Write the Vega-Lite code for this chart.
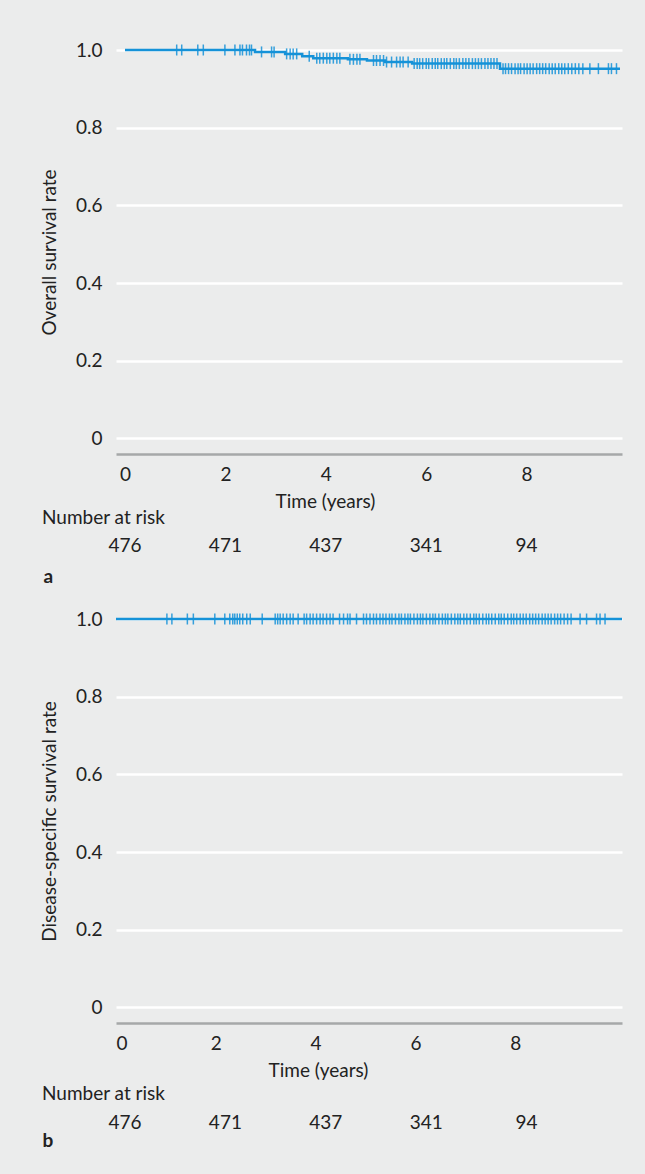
{
  "$schema": "https://vega.github.io/schema/vega-lite/v6.json",
  "background": "#ebecec",
  "padding": {"left": 40, "top": 41, "right": 23, "bottom": 24},
  "bounds": "flush",
  "spacing": 79,
  "datasets": {
    "kmA": [
      {"t": 0, "s": 1.0}, {"t": 2.59, "s": 0.995}, {"t": 3.19, "s": 0.99}, {"t": 3.53, "s": 0.984},
      {"t": 3.75, "s": 0.979}, {"t": 4.44, "s": 0.976}, {"t": 4.82, "s": 0.973}, {"t": 5.18, "s": 0.969},
      {"t": 5.72, "s": 0.965}, {"t": 7.47, "s": 0.952}, {"t": 9.86, "s": 0.952}
    ],
    "censorA": [
      {"t": 1.03, "s": 1}, {"t": 1.13, "s": 1}, {"t": 1.45, "s": 1}, {"t": 1.56, "s": 1}, {"t": 1.99, "s": 1},
      {"t": 2.19, "s": 1}, {"t": 2.29, "s": 1}, {"t": 2.34, "s": 1}, {"t": 2.42, "s": 1}, {"t": 2.48, "s": 1}, {"t": 2.52, "s": 1},
      {"t": 2.72, "s": 0.995}, {"t": 2.92, "s": 0.995}, {"t": 2.97, "s": 0.995},
      {"t": 3.22, "s": 0.99}, {"t": 3.29, "s": 0.99}, {"t": 3.35, "s": 0.99}, {"t": 3.42, "s": 0.99},
      {"t": 3.67, "s": 0.984},
      {"t": 3.82, "s": 0.979}, {"t": 3.88, "s": 0.979}, {"t": 3.95, "s": 0.979}, {"t": 4.02, "s": 0.979},
      {"t": 4.08, "s": 0.979}, {"t": 4.15, "s": 0.979}, {"t": 4.22, "s": 0.979}, {"t": 4.28, "s": 0.979},
      {"t": 4.48, "s": 0.976}, {"t": 4.55, "s": 0.976}, {"t": 4.62, "s": 0.976}, {"t": 4.68, "s": 0.976},
      {"t": 4.95, "s": 0.973}, {"t": 5.01, "s": 0.973}, {"t": 5.08, "s": 0.973}, {"t": 5.15, "s": 0.973},
      {"t": 5.21, "s": 0.969}, {"t": 5.31, "s": 0.969}, {"t": 5.41, "s": 0.969}, {"t": 5.48, "s": 0.969},
      {"t": 5.54, "s": 0.969}, {"t": 5.64, "s": 0.969},
      {"t": 5.76, "s": 0.965}, {"t": 5.82, "s": 0.965}, {"t": 5.87, "s": 0.965}, {"t": 5.93, "s": 0.965},
      {"t": 6.0, "s": 0.965}, {"t": 6.05, "s": 0.965}, {"t": 6.12, "s": 0.965}, {"t": 6.18, "s": 0.965},
      {"t": 6.23, "s": 0.965}, {"t": 6.3, "s": 0.965}, {"t": 6.36, "s": 0.965}, {"t": 6.41, "s": 0.965},
      {"t": 6.48, "s": 0.965}, {"t": 6.55, "s": 0.965}, {"t": 6.6, "s": 0.965}, {"t": 6.66, "s": 0.965},
      {"t": 6.73, "s": 0.965}, {"t": 6.79, "s": 0.965}, {"t": 6.85, "s": 0.965}, {"t": 6.92, "s": 0.965},
      {"t": 6.98, "s": 0.965}, {"t": 7.04, "s": 0.965}, {"t": 7.1, "s": 0.965}, {"t": 7.17, "s": 0.965},
      {"t": 7.23, "s": 0.965}, {"t": 7.29, "s": 0.965}, {"t": 7.35, "s": 0.965}, {"t": 7.41, "s": 0.965},
      {"t": 7.53, "s": 0.952}, {"t": 7.58, "s": 0.952}, {"t": 7.64, "s": 0.952}, {"t": 7.7, "s": 0.952},
      {"t": 7.77, "s": 0.952}, {"t": 7.83, "s": 0.952}, {"t": 7.88, "s": 0.952}, {"t": 7.95, "s": 0.952},
      {"t": 8.01, "s": 0.952}, {"t": 8.07, "s": 0.952}, {"t": 8.13, "s": 0.952}, {"t": 8.2, "s": 0.952},
      {"t": 8.26, "s": 0.952}, {"t": 8.32, "s": 0.952}, {"t": 8.38, "s": 0.952}, {"t": 8.45, "s": 0.952},
      {"t": 8.51, "s": 0.952}, {"t": 8.57, "s": 0.952}, {"t": 8.64, "s": 0.952}, {"t": 8.7, "s": 0.952},
      {"t": 8.76, "s": 0.952}, {"t": 8.83, "s": 0.952}, {"t": 8.9, "s": 0.952}, {"t": 8.97, "s": 0.952},
      {"t": 9.04, "s": 0.952}, {"t": 9.12, "s": 0.952}, {"t": 9.26, "s": 0.952}, {"t": 9.43, "s": 0.952},
      {"t": 9.63, "s": 0.952}, {"t": 9.69, "s": 0.952}, {"t": 9.79, "s": 0.952}
    ],
    "kmB": [{"t": 0, "s": 1.0}, {"t": 10.14, "s": 1.0}],
    "censorB": [
      {"t": 1.02}, {"t": 1.12}, {"t": 1.43}, {"t": 1.55}, {"t": 1.98}, {"t": 2.18}, {"t": 2.28}, {"t": 2.34},
      {"t": 2.38}, {"t": 2.43}, {"t": 2.48}, {"t": 2.54}, {"t": 2.62}, {"t": 2.69}, {"t": 2.93}, {"t": 3.19},
      {"t": 3.24}, {"t": 3.29}, {"t": 3.35}, {"t": 3.42}, {"t": 3.49}, {"t": 3.55}, {"t": 3.65}, {"t": 3.77},
      {"t": 3.82}, {"t": 3.89}, {"t": 3.95}, {"t": 4.02}, {"t": 4.09}, {"t": 4.15}, {"t": 4.22}, {"t": 4.29},
      {"t": 4.35}, {"t": 4.48}, {"t": 4.56}, {"t": 4.64}, {"t": 4.69}, {"t": 4.82}, {"t": 4.96}, {"t": 5.02},
      {"t": 5.09}, {"t": 5.16}, {"t": 5.22}, {"t": 5.29}, {"t": 5.35}, {"t": 5.41}, {"t": 5.48}, {"t": 5.53},
      {"t": 5.6}, {"t": 5.67}, {"t": 5.72}, {"t": 5.79}, {"t": 5.85}, {"t": 5.9}, {"t": 5.97}, {"t": 6.04},
      {"t": 6.1}, {"t": 6.15}, {"t": 6.22}, {"t": 6.29}, {"t": 6.35}, {"t": 6.4}, {"t": 6.47}, {"t": 6.54},
      {"t": 6.6}, {"t": 6.65}, {"t": 6.72}, {"t": 6.79}, {"t": 6.85}, {"t": 6.9}, {"t": 6.97}, {"t": 7.03},
      {"t": 7.1}, {"t": 7.17}, {"t": 7.22}, {"t": 7.28}, {"t": 7.35}, {"t": 7.42}, {"t": 7.47}, {"t": 7.53},
      {"t": 7.6}, {"t": 7.67}, {"t": 7.72}, {"t": 7.78}, {"t": 7.85}, {"t": 7.92}, {"t": 7.97}, {"t": 8.03},
      {"t": 8.1}, {"t": 8.16}, {"t": 8.22}, {"t": 8.29}, {"t": 8.35}, {"t": 8.41}, {"t": 8.47}, {"t": 8.54},
      {"t": 8.6}, {"t": 8.66}, {"t": 8.72}, {"t": 8.79}, {"t": 8.85}, {"t": 8.91}, {"t": 8.98}, {"t": 9.05},
      {"t": 9.12}, {"t": 9.3}, {"t": 9.43}, {"t": 9.63}, {"t": 9.7}, {"t": 9.8}
    ],
    "risk": [
      {"t": 0, "n": 476}, {"t": 2, "n": 471}, {"t": 4, "n": 437}, {"t": 6, "n": 341}, {"t": 8, "n": 94}
    ]
  },
  "vconcat": [
    {
      "width": 506,
      "height": 404,
      "layer": [
        {
          "data": {"name": "kmA"},
          "mark": {"type": "line", "interpolate": "step-after", "color": "#1592d8", "strokeWidth": 2.5, "clip": false},
          "encoding": {
            "x": {
              "field": "t", "type": "quantitative",
              "scale": {"domain": [-0.179, 9.9], "nice": false, "zero": false},
              "axis": {"values": [0, 2, 4, 6, 8], "format": "d", "title": "Time (years)", "domain": true,
                       "domainColor": "#a6a8a9", "domainWidth": 2.5, "ticks": false, "grid": false,
                       "labelPadding": 11, "titlePadding": 8, "titleX": 209, "titleAlign": "center"}
            },
            "y": {
              "field": "s", "type": "quantitative",
              "scale": {"domain": [-0.04, 1.0], "nice": false, "zero": false},
              "axis": {"values": [0, 0.2, 0.4, 0.6, 0.8, 1.0],
                       "labelExpr": "datum.value == 0 ? '0' : format(datum.value, '.1f')",
                       "title": "Overall survival rate", "grid": true, "gridColor": "#ffffff", "gridWidth": 2.5,
                       "domain": false, "ticks": false, "labelPadding": 14, "titlePadding": 16}
            }
          }
        },
        {
          "data": {"name": "censorA"},
          "mark": {"type": "tick", "orient": "vertical", "color": "#1592d8", "thickness": 1.5, "size": 11, "opacity": 0.85, "clip": false},
          "encoding": {
            "x": {"field": "t", "type": "quantitative"},
            "y": {"field": "s", "type": "quantitative"}
          }
        }
      ]
    },
    {
      "width": 506,
      "height": 7,
      "title": {"text": "Number at risk", "anchor": "start", "frame": "group", "dx": -74, "dy": 20, "offset": 10,
                "baseline": "alphabetic", "align": "left", "fontSize": 19, "fontWeight": "normal", "color": "#222222"},
      "data": {"name": "risk"},
      "mark": {"type": "text", "baseline": "top", "fontSize": 19, "color": "#222222"},
      "encoding": {
        "x": {
          "field": "t", "type": "quantitative",
          "scale": {"domain": [-0.179, 9.9], "nice": false, "zero": false},
          "axis": {"title": "a", "domain": false, "ticks": false, "labels": false, "grid": false,
                   "titleFontWeight": "bold", "titleX": -73, "titleY": 42, "titleAlign": "left",
                   "titleAnchor": "start", "titleBaseline": "alphabetic", "titleAngle": 0}
        },
        "text": {"field": "n", "type": "quantitative", "format": "d"}
      }
    },
    {
      "width": 506,
      "height": 404,
      "layer": [
        {
          "data": {"name": "kmB"},
          "mark": {"type": "line", "interpolate": "step-after", "color": "#1592d8", "strokeWidth": 2.5, "clip": false},
          "encoding": {
            "x": {
              "field": "t", "type": "quantitative",
              "scale": {"domain": [0, 10.14], "nice": false, "zero": false},
              "axis": {"values": [0, 2, 4, 6, 8], "format": "d", "title": "Time (years)", "domain": true,
                       "domainColor": "#a6a8a9", "domainWidth": 2.5, "ticks": false, "grid": false,
                       "labelPadding": 11, "titlePadding": 8, "titleX": 202, "titleAlign": "center"}
            },
            "y": {
              "field": "s", "type": "quantitative",
              "scale": {"domain": [-0.04, 1.0], "nice": false, "zero": false},
              "axis": {"values": [0, 0.2, 0.4, 0.6, 0.8, 1.0],
                       "labelExpr": "datum.value == 0 ? '0' : format(datum.value, '.1f')",
                       "title": "Disease-specific survival rate", "grid": true, "gridColor": "#ffffff", "gridWidth": 2.5,
                       "domain": false, "ticks": false, "labelPadding": 14, "titlePadding": 16}
            }
          }
        },
        {
          "data": {"name": "censorB"},
          "mark": {"type": "tick", "orient": "vertical", "color": "#1592d8", "thickness": 1.5, "size": 11, "opacity": 0.85, "clip": false},
          "encoding": {
            "x": {"field": "t", "type": "quantitative"},
            "y": {"datum": 1, "type": "quantitative"}
          }
        }
      ]
    },
    {
      "width": 506,
      "height": 23,
      "title": {"text": "Number at risk", "anchor": "start", "frame": "group", "dx": -74, "dy": 19, "offset": 2,
                "baseline": "alphabetic", "align": "left", "fontSize": 19, "fontWeight": "normal", "color": "#222222"},
      "data": {"name": "risk"},
      "mark": {"type": "text", "baseline": "top", "fontSize": 19, "color": "#222222"},
      "encoding": {
        "x": {
          "field": "t", "type": "quantitative",
          "scale": {"domain": [-0.179, 9.9], "nice": false, "zero": false},
          "axis": {"title": "b", "domain": false, "ticks": false, "labels": false, "grid": false,
                   "titleFontWeight": "bold", "titleX": -74, "titleY": 21, "titleAlign": "left",
                   "titleAnchor": "start", "titleBaseline": "alphabetic", "titleAngle": 0}
        },
        "text": {"field": "n", "type": "quantitative", "format": "d"}
      }
    }
  ],
  "config": {
    "font": "Lato",
    "view": {"stroke": null},
    "axis": {"labelFont": "Lato", "titleFont": "Lato", "labelFontSize": 19, "titleFontSize": 19,
             "labelColor": "#222222", "titleColor": "#222222", "titleFontWeight": "normal", "ticks": false},
    "title": {"font": "Lato", "fontSize": 19, "fontWeight": "normal", "color": "#222222"},
    "text": {"font": "Lato", "fontSize": 19, "color": "#222222"}
  }
}
